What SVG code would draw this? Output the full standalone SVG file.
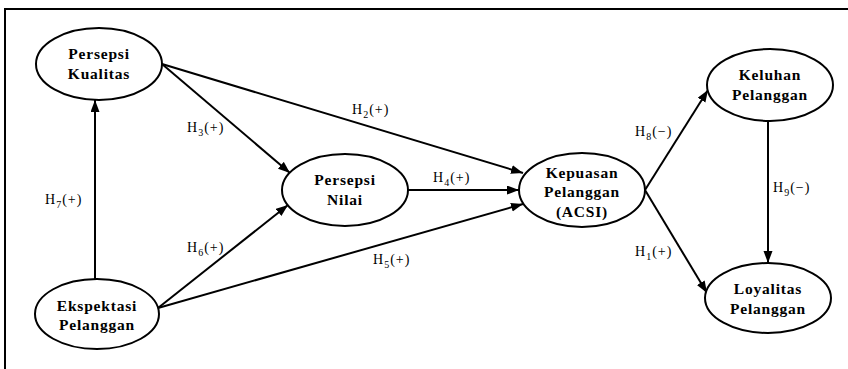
<svg xmlns="http://www.w3.org/2000/svg" width="848" height="369" viewBox="0 0 848 369">
<style>
.node ellipse{fill:#fff;stroke:#000;stroke-width:2}
.node text{font-family:"Liberation Serif","Times New Roman",serif;font-weight:bold;font-size:15.5px;letter-spacing:0.8px;text-anchor:middle;fill:#000}
.edges line{stroke:#000;stroke-width:2;marker-end:url(#ah)}
.lbl{font-family:"Liberation Serif","Times New Roman",serif;font-size:14px;letter-spacing:1px;fill:#000}
.frame{fill:none;stroke:#000;stroke-width:2}
</style>
<defs>
<marker id="ah" markerUnits="userSpaceOnUse" markerWidth="13" markerHeight="10" refX="12" refY="4.5" orient="auto">
<path d="M0,0 L12,4.5 L0,9 z" fill="#000"/>
</marker>
</defs>
<rect width="848" height="369" fill="#fff"/>
<path class="frame" d="M5,369 V9 H848"/>
<g class="edges">
<line x1="95" y1="279" x2="95" y2="100"/>
<line x1="162" y1="64" x2="290" y2="173"/>
<line x1="162" y1="64" x2="523" y2="173"/>
<line x1="408" y1="190" x2="519" y2="190"/>
<line x1="158" y1="308" x2="523" y2="204"/>
<line x1="158" y1="308" x2="288" y2="205"/>
<line x1="645" y1="190" x2="708" y2="90"/>
<line x1="645" y1="190" x2="707" y2="293"/>
<line x1="768" y1="121" x2="768" y2="263"/>
</g>
<g id="pk" class="node"><ellipse cx="99" cy="64" rx="63" ry="36"/><text x="99" y="59">Persepsi</text><text x="99" y="79">Kualitas</text></g>
<g id="ek" class="node"><ellipse cx="97" cy="314" rx="62" ry="35"/><text x="97" y="311">Ekspektasi</text><text x="97" y="330">Pelanggan</text></g>
<g id="pn" class="node"><ellipse cx="345" cy="190" rx="63" ry="36"/><text x="345" y="185">Persepsi</text><text x="345" y="205">Nilai</text></g>
<g id="kp" class="node"><ellipse cx="582" cy="190" rx="63" ry="37"/><text x="582" y="178">Kepuasan</text><text x="582" y="197">Pelanggan</text><text x="582" y="217">(ACSI)</text></g>
<g id="kl" class="node"><ellipse cx="770" cy="85" rx="63" ry="36"/><text x="770" y="80">Keluhan</text><text x="770" y="100">Pelanggan</text></g>
<g id="ly" class="node"><ellipse cx="768" cy="298" rx="63" ry="35"/><text x="768" y="294">Loyalitas</text><text x="768" y="314">Pelanggan</text></g>
<g id="labels">
<text class="lbl" x="352" y="114">H<tspan font-size="10" dy="4">2</tspan><tspan dy="-4">(+)</tspan></text>
<text class="lbl" x="187" y="132">H<tspan font-size="10" dy="4">3</tspan><tspan dy="-4">(+)</tspan></text>
<text class="lbl" x="433" y="182">H<tspan font-size="10" dy="4">4</tspan><tspan dy="-4">(+)</tspan></text>
<text class="lbl" x="373" y="264">H<tspan font-size="10" dy="4">5</tspan><tspan dy="-4">(+)</tspan></text>
<text class="lbl" x="187" y="252">H<tspan font-size="10" dy="4">6</tspan><tspan dy="-4">(+)</tspan></text>
<text class="lbl" x="45" y="204">H<tspan font-size="10" dy="4">7</tspan><tspan dy="-4">(+)</tspan></text>
<text class="lbl" x="635" y="136">H<tspan font-size="10" dy="4">8</tspan><tspan dy="-4">(−)</tspan></text>
<text class="lbl" x="773" y="192">H<tspan font-size="10" dy="4">9</tspan><tspan dy="-4">(−)</tspan></text>
<text class="lbl" x="635" y="256">H<tspan font-size="10" dy="4">1</tspan><tspan dy="-4">(+)</tspan></text>
</g>
</svg>
